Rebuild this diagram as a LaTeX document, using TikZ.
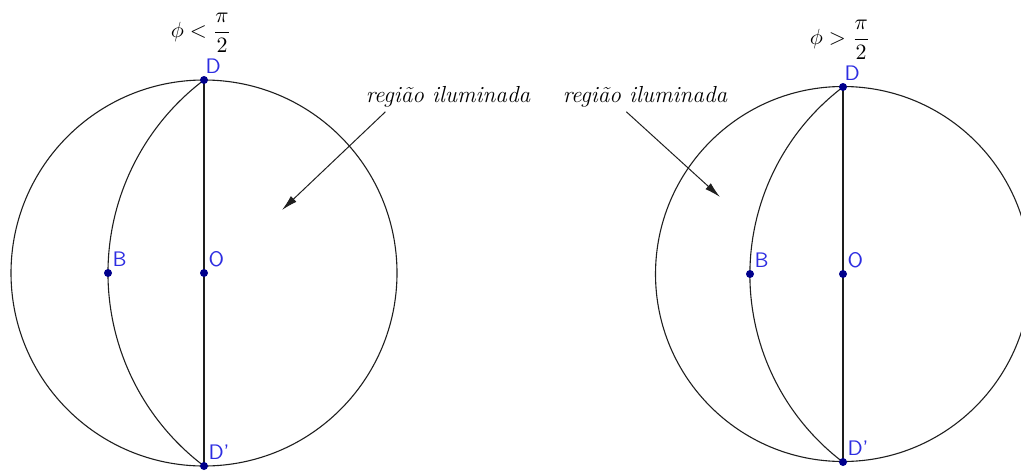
\documentclass[tikz,border=0pt]{standalone}
\usepackage{amsmath}
\usepackage{tikz}
\usetikzlibrary{arrows.meta, positioning}
\definecolor{ptblue}{RGB}{0,0,140}
\definecolor{lblblue}{RGB}{45,45,225}
\definecolor{linegray}{RGB}{30,30,30}
\tikzset{
  circ/.style={draw=linegray, line width=0.55pt},
  pt/.style={circle, fill=ptblue, inner sep=0pt, minimum size=4pt},
  lbl/.style={text=lblblue, font=\sffamily\fontsize{10.5}{10.5}\selectfont, inner sep=0.5pt},
  note/.style={font=\fontsize{11.6}{11.6}\selectfont\itshape, inner sep=1pt},
  cond/.style={font=\fontsize{11}{11}\selectfont, inner sep=0pt},
  arrow/.style={-{Latex[length=8pt,width=4pt]}, line width=0.5pt, draw=linegray},
}
\begin{document}
\begin{tikzpicture}[x=0.5pt, y=-0.5pt]
  \useasboundingbox (0,0) rectangle (1021,471);

  % Left sphere: phi < pi/2
  \coordinate (oL) at (204,273);
  \coordinate (DL) at (204,80);
  \coordinate (DpL) at (204,466);
  \coordinate (BL) at (108,273);
  \draw[circ] (oL) circle[radius=193];
  \draw[circ] (DL) -- (DpL);
  \draw[circ] (DL) arc[start angle=232.9, end angle=127.1, radius=242];
  \node[pt] (ptDL) at (DL) {};
  \node[pt] (ptDpL) at (DpL) {};
  \node[pt] (ptOL) at (oL) {};
  \node[pt] (ptBL) at (BL) {};
  \node[lbl, above right=1pt and -1.5pt of ptDL] (labDL) {D};
  \node[lbl, above right=1pt and 0pt of ptOL] (labOL) {O};
  \node[lbl, above right=1pt and 0pt of ptBL] (labBL) {B};
  \node[lbl, above right=1pt and 0pt of ptDpL] (labDpL) {D'};
  \node[cond] (condL) at (201,33) {$\displaystyle \phi < \frac{\pi}{2}$};
  \node[note] (noteL) at (448,97) {região iluminada};
  \coordinate (tipL) at (282,210);
  \draw[arrow] ([xshift=11pt,yshift=-1pt]noteL.south west) -- (tipL);

  % Right sphere: phi > pi/2
  \coordinate (oR) at (843,274);
  \coordinate (DR) at (843,87);
  \coordinate (DpR) at (843,462);
  \coordinate (BR) at (750,274);
  \draw[circ] (oR) circle[radius=187.5];
  \draw[circ] (DR) -- (DpR);
  \draw[circ] (DR) arc[start angle=232.8, end angle=127.2, radius=235.5];
  \node[pt] (ptDR) at (DR) {};
  \node[pt] (ptDpR) at (DpR) {};
  \node[pt] (ptOR) at (oR) {};
  \node[pt] (ptBR) at (BR) {};
  \node[lbl, above right=1pt and -1.5pt of ptDR] (labDR) {D};
  \node[lbl, above right=1pt and 0pt of ptOR] (labOR) {O};
  \node[lbl, above right=1pt and 0pt of ptBR] (labBR) {B};
  \node[lbl, above right=1pt and 0pt of ptDpR] (labDpR) {D'};
  \node[cond] (condR) at (840,40) {$\displaystyle \phi > \frac{\pi}{2}$};
  \node[note] (noteR) at (645,97) {região iluminada};
  \coordinate (tipR) at (720,197);
  \draw[arrow] ([xshift=33pt,yshift=-1pt]noteR.south west) -- (tipR);
\end{tikzpicture}
\end{document}
